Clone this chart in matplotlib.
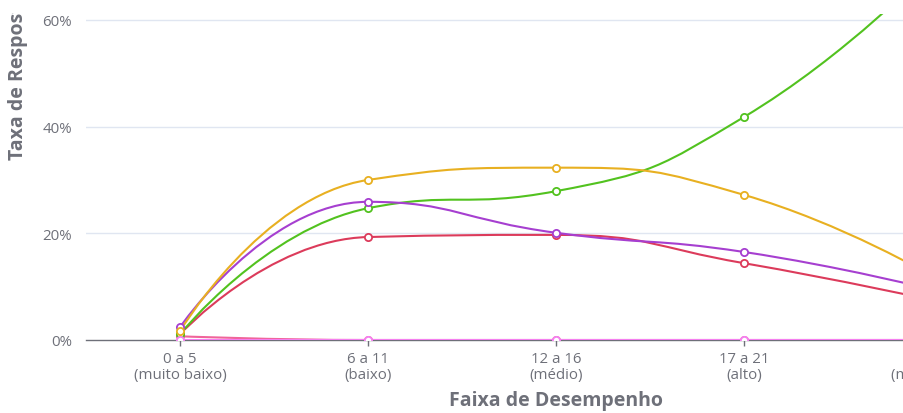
import matplotlib
matplotlib.use("Agg")
import matplotlib.pyplot as plt
from matplotlib.path import Path
from matplotlib.patches import PathPatch, Rectangle
import numpy as np

# ---- data ----
categories = ["0 a 5\n(muito baixo)", "6 a 11\n(baixo)", "12 a 16\n(médio)",
              "17 a 21\n(alto)", "22 a 25\n(muito alto)"]
serie_amarela = [1.7, 30.0, 32.3, 27.2, 12.0]
serie_verde = [1.1, 24.7, 27.9, 41.8, 70.0]
serie_roxa = [2.4, 25.9, 20.1, 16.5, 9.5]
serie_vermelha = [1.1, 19.3, 19.7, 14.4, 7.5]
serie_rosa = [0.7, 0.0, 0.0, 0.0, 0.0]
serie_magenta = [0.0, 0.0, 0.0, 0.0, 0.0]
y_ticks = [0, 20, 40, 60]
y_tick_labels = ["0%", "20%", "40%", "60%"]

series = [
    (serie_rosa, "#f0649a"),
    (serie_vermelha, "#dc3b5b"),
    (serie_verde, "#52c21f"),
    (serie_roxa, "#a63fd0"),
    (serie_amarela, "#e8b021"),
    (serie_magenta, "#f47ff0"),
]

W, H = 904, 414
fig = plt.figure(figsize=(W / 100, H / 100), dpi=100)
fig.patch.set_facecolor("white")

# axes geometry in pixels (plot area extends beyond the right edge)
left_px, right_px, bottom_px, top_px = 86, 1026, 341, 15
ax = fig.add_axes([left_px / W, (H - bottom_px) / H,
                   (right_px - left_px) / W, (bottom_px - top_px) / H])
ymax = (bottom_px - top_px) / (106.7 / 20)
ax.set_xlim(-0.5, len(categories) - 0.5)
ax.set_ylim(0, ymax)

# scale factors: data units -> pixels (for the smoothing algorithm)
sx = (right_px - left_px) / len(categories)
sy = 106.7 / 20


def smooth_path(xs, ys, smooth=0.5):
    pts = [(x * sx, y * sy) for x, y in zip(xs, ys)]
    verts = [pts[0]]
    codes = [Path.MOVETO]
    cp0 = pts[0]
    n = len(pts)
    for i in range(1, n):
        x, y = pts[i]
        px, py = pts[i - 1]
        if i == n - 1:
            cp1 = (x, y)
            ncp0 = None
        else:
            nx, ny = pts[i + 1]
            vx, vy = nx - px, ny - py
            lp = np.hypot(x - px, y - py)
            ln = np.hypot(nx - x, ny - y)
            r = ln / (ln + lp)
            ncx = x + vx * smooth * r
            ncy = y + vy * smooth * r
            ncx = max(min(ncx, max(nx, x)), min(nx, x))
            ncy = max(min(ncy, max(ny, y)), min(ny, y))
            vx, vy = ncx - x, ncy - y
            c1x = x - vx * lp / ln
            c1y = y - vy * lp / ln
            c1x = max(min(c1x, max(px, x)), min(px, x))
            c1y = max(min(c1y, max(py, y)), min(py, y))
            vx, vy = x - c1x, y - c1y
            ncx = x + vx * ln / lp
            ncy = y + vy * ln / lp
            cp1 = (c1x, c1y)
            ncp0 = (ncx, ncy)
        verts += [cp0, cp1, (x, y)]
        codes += [Path.CURVE4] * 3
        cp0 = ncp0
    verts = [(vx_ / sx, vy_ / sy) for vx_, vy_ in verts]
    return Path(verts, codes)


xs = np.arange(len(categories))
for k, (vals, col) in enumerate(series):
    path = smooth_path(xs, vals)
    patch = PathPatch(path, facecolor="none", edgecolor=col, lw=1.5,
                      zorder=3 + k, capstyle="round", joinstyle="round")
    ax.add_patch(patch)
    ax.plot(xs, vals, linestyle="none", marker="o", markersize=5.2,
            markerfacecolor="white", markeredgecolor=col, markeredgewidth=1.3,
            zorder=10 + k, clip_on=True)

# grid
for t in y_ticks[1:]:
    ax.axhline(t, color="#e0e6f1", lw=1.0, zorder=0)

for s in ["top", "right", "left"]:
    ax.spines[s].set_visible(False)
ax.spines["bottom"].set_color("#6e7079")
ax.spines["bottom"].set_linewidth(1.0)
ax.spines["bottom"].set_zorder(2)

ax.set_yticks(y_ticks)
ax.set_yticklabels(y_tick_labels)
ax.set_xticks(xs)
ax.set_xticklabels(categories, linespacing=1.05)
ax.tick_params(axis="y", length=0, pad=10, labelsize=10.8, labelcolor="#6e7079")
ax.tick_params(axis="x", length=4, width=1, color="#6e7079", pad=4,
               labelsize=10.8, labelcolor="#6e7079")
for lab in ax.get_xticklabels() + ax.get_yticklabels():
    lab.set_fontfamily("Open Sans")

ax.set_xlabel("Faixa de Desempenho", fontsize=14, fontweight="bold",
              color="#6e7079", labelpad=6, fontfamily="Open Sans")

fig.text(18 / W, (H - 160) / H, "Taxa de Resposta", rotation=90,
         ha="center", va="bottom", fontsize=14, fontweight="bold",
         color="#6e7079", fontfamily="Open Sans")

# white overlay strip at the very top (covering element in the original view)
fig.patches.append(Rectangle((0, (H - 14) / H), 1, 14 / H, transform=fig.transFigure,
                             facecolor="white", edgecolor="none", zorder=100))

fig.savefig("out.png", dpi=100)
